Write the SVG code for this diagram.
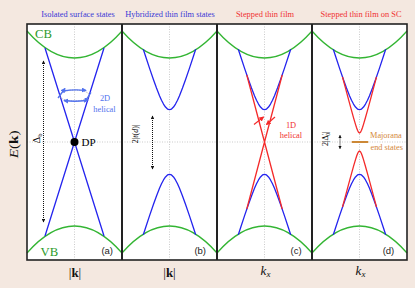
<svg xmlns="http://www.w3.org/2000/svg" xmlns:xlink="http://www.w3.org/1999/xlink" width="415" height="288" viewBox="0 0 415 288">
<style>
.serif{font-family:"Liberation Serif","DejaVu Serif",serif;font-weight:normal}
.sans{font-family:"Liberation Sans",Arial,sans-serif}
.cb{fill:none;stroke:#33b533;stroke-width:1.3}
.bl{fill:none;stroke:#2424ee;stroke-width:1.3;stroke-linejoin:round}
.rd{fill:none;stroke:#f42a2a;stroke-width:1.3;stroke-linejoin:round}
.grid{fill:none;stroke:#a8a8a8;stroke-width:0.6;stroke-dasharray:1 1.5}
.dots{fill:none;stroke:#111;stroke-width:1;stroke-dasharray:1 1}
.tb{fill:#3838d6;font-size:8.4px}
.tr{fill:#f03030;font-size:8.4px}
.lab{fill:#222;font-size:9.5px}
</style>
<defs>
<marker id="ahk" viewBox="0 0 6 6" refX="5" refY="3" markerWidth="3.5" markerHeight="3.5" markerUnits="userSpaceOnUse" orient="auto-start-reverse"><path d="M0,0L6,3L0,6z" fill="#111"/></marker>
<marker id="ahb" viewBox="0 0 6 6" refX="5" refY="3" markerWidth="5" markerHeight="5" markerUnits="userSpaceOnUse" orient="auto"><path d="M0,0L6,3L0,6z" fill="#5272ee"/></marker>
<marker id="ahr" viewBox="0 0 6 6" refX="5" refY="3" markerWidth="5" markerHeight="5" markerUnits="userSpaceOnUse" orient="auto"><path d="M0,0L6,3L0,6z" fill="#f42a2a"/></marker>
<path id="band" class="cb" d="M-47.5,31Q0,85 47.5,31M-47.5,253Q0,199 47.5,253"/>
<path id="gap" class="bl" d="M-26.2,49.22L-24,56.02L-20,68.16L-16,79.83L-13,88.09L-10,95.68L-8,100.19L-6,104.05L-4,107.08L-2,109.03L0,109.7L2,109.03L4,107.08L6,104.05L8,100.19L10,95.68L13,88.09L16,79.83L20,68.16L24,56.02L26.2,49.22M-26.2,234.78L-24,227.98L-20,215.84L-16,204.17L-13,195.91L-10,188.32L-8,183.81L-6,179.95L-4,176.92L-2,174.97L0,174.3L2,174.97L4,176.92L6,179.95L8,183.81L10,188.32L13,195.91L16,204.17L20,215.84L24,227.98L26.2,234.78"/>
</defs>
<rect x="0" y="0" width="415" height="288" fill="#f4e8e0"/>
<rect x="27" y="24" width="380" height="236" fill="#ffffff"/>

<g id="grid">
<path class="grid" d="M27,142H407M74.5,24V260M169.5,24V260M264.5,24V260M359.5,24V260"/>
</g>

<g id="titles" class="serif" text-anchor="middle">
<text class="tb" x="78" y="17">Isolated surface states</text>
<text class="tb" x="170" y="17">Hybridized thin film states</text>
<text class="tr" x="265" y="17">Stepped thin film</text>
<text class="tr" x="361" y="17">Stepped thin film on SC</text>
</g>

<g id="panel-a">
<use xlink:href="#band" x="74.5"/>
<path class="bl" d="M45,48L104,236M104,48L45,236"/>
<ellipse cx="74.5" cy="95.5" rx="15" ry="5.5" fill="none" stroke="#999" stroke-width="0.8" stroke-dasharray="1.2 1.2"/>
<g fill="none" stroke="#5272ee" stroke-width="1.3">
<path d="M63,91Q74.5,89 86,90.5" marker-end="url(#ahb)"/>
<path d="M86,100.5Q74.5,102 64,100.5" marker-end="url(#ahb)"/>
<path d="M58,98L65,88.5" marker-end="url(#ahb)"/>
<path d="M91,92.5L84.5,102" marker-end="url(#ahb)"/>
</g>
<text class="serif" x="105" y="100.5" text-anchor="middle" fill="#5272ee" font-size="8.4">2D</text>
<text class="serif" x="104.5" y="111.5" text-anchor="middle" fill="#5272ee" font-size="8.4">helical</text>
<circle cx="74.5" cy="142" r="4" fill="#000"/>
<text class="serif" x="81.5" y="145.5" font-size="11" fill="#000">DP</text>
<path class="dots" d="M43.5,61V222" marker-start="url(#ahk)" marker-end="url(#ahk)"/>
<text class="serif" transform="translate(40,143.5) rotate(-90)" font-size="10.5" fill="#000">Δ<tspan font-size="6.5" dy="2">b</tspan></text>
<text class="serif" x="35" y="37.7" font-size="12.7" fill="#2a9a2a">CB</text>
<text class="serif" x="40.5" y="255.7" font-size="12.7" fill="#2a9a2a">VB</text>
<text class="sans lab" x="113" y="253.5" text-anchor="end">(a)</text>
</g>

<g id="panel-b">
<use xlink:href="#band" x="169.5"/>
<use xlink:href="#gap" x="169.5"/>
<path class="dots" d="M152.5,116V169" marker-start="url(#ahk)" marker-end="url(#ahk)"/>
<text class="serif" transform="translate(138,143.3) rotate(-90)" font-size="8" fill="#000">2|<tspan font-style="italic">t</tspan>(<tspan font-style="italic">d</tspan>)|</text>
<text class="sans lab" x="206" y="253.5" text-anchor="end">(b)</text>
</g>

<g id="panel-c">
<use xlink:href="#band" x="264.5"/>
<use xlink:href="#gap" x="264.5"/>
<path class="rd" d="M246.8,75L282.2,209M282.2,75L246.8,209"/>
<path d="M254,124.5L263.5,117" stroke="#f42a2a" stroke-width="1.2" marker-end="url(#ahr)"/>
<path d="M275,117L266.5,124.5" stroke="#f42a2a" stroke-width="1.2" marker-end="url(#ahr)"/>
<text class="serif" x="291" y="127.5" text-anchor="middle" fill="#f03030" font-size="8.4">1D</text>
<text class="serif" x="291" y="138" text-anchor="middle" fill="#f03030" font-size="8.4">helical</text>
<text class="sans lab" x="301.7" y="253.5" text-anchor="end">(c)</text>
</g>

<g id="panel-d">
<use xlink:href="#band" x="359.5"/>
<use xlink:href="#gap" x="359.5"/>
<path class="rd" transform="translate(359.5,0)" d="M-17,77L-14,88.18L-11,99.35L-8,110.37L-6,117.55L-4,124.37L-3,127.5L-2,130.23L-1,132.23L0,133L1,132.23L2,130.23L3,127.5L4,124.37L6,117.55L8,110.37L11,99.35L14,88.18L17,77M-17,207L-14,195.82L-11,184.65L-8,173.63L-6,166.45L-4,159.63L-3,156.5L-2,153.77L-1,151.77L0,151L1,151.77L2,153.77L3,156.5L4,159.63L6,166.45L8,173.63L11,184.65L14,195.82L17,207"/>
<path d="M351.7,142H368.3" stroke="#cc8836" stroke-width="2"/>
<path class="dots" d="M340,135.5V148.5" marker-start="url(#ahk)" marker-end="url(#ahk)"/>
<text class="serif" transform="translate(328,146) rotate(-90)" font-size="8" fill="#000">2|Δ<tspan font-size="6" dy="-2.5">′</tspan><tspan font-size="5.5" dx="-1.8" dy="4.5">0</tspan><tspan dy="-2">|</tspan></text>
<text class="serif" x="370" y="138.3" fill="#d4883a" font-size="8.3">Majorana</text>
<text class="serif" x="370.5" y="150" fill="#d4883a" font-size="8.3">end states</text>
<text class="sans lab" x="394.3" y="253.5" text-anchor="end">(d)</text>
</g>

<g id="frame" fill="none" stroke="#222">
<rect x="27" y="24" width="380" height="236" stroke-width="1.6"/>
<path d="M122,24V260M217,24V260M312,24V260" stroke-width="2"/>
</g>

<g id="axes" class="serif" fill="#111" text-anchor="middle">
<text transform="translate(17.5,144.3) rotate(-90)" font-size="12.5" textLength="28" lengthAdjust="spacingAndGlyphs"><tspan font-style="italic">E</tspan>(<tspan font-weight="bold">k</tspan>)</text>
<text x="75" y="276.5" font-size="13">|<tspan font-weight="bold">k</tspan>|</text>
<text x="169.5" y="276.5" font-size="13">|<tspan font-weight="bold">k</tspan>|</text>
<text x="265.5" y="274.7" font-size="13"><tspan font-style="italic">k</tspan><tspan font-style="italic" font-size="9" dy="2">x</tspan></text>
<text x="360.5" y="274.7" font-size="13"><tspan font-style="italic">k</tspan><tspan font-style="italic" font-size="9" dy="2">x</tspan></text>
</g>
</svg>
